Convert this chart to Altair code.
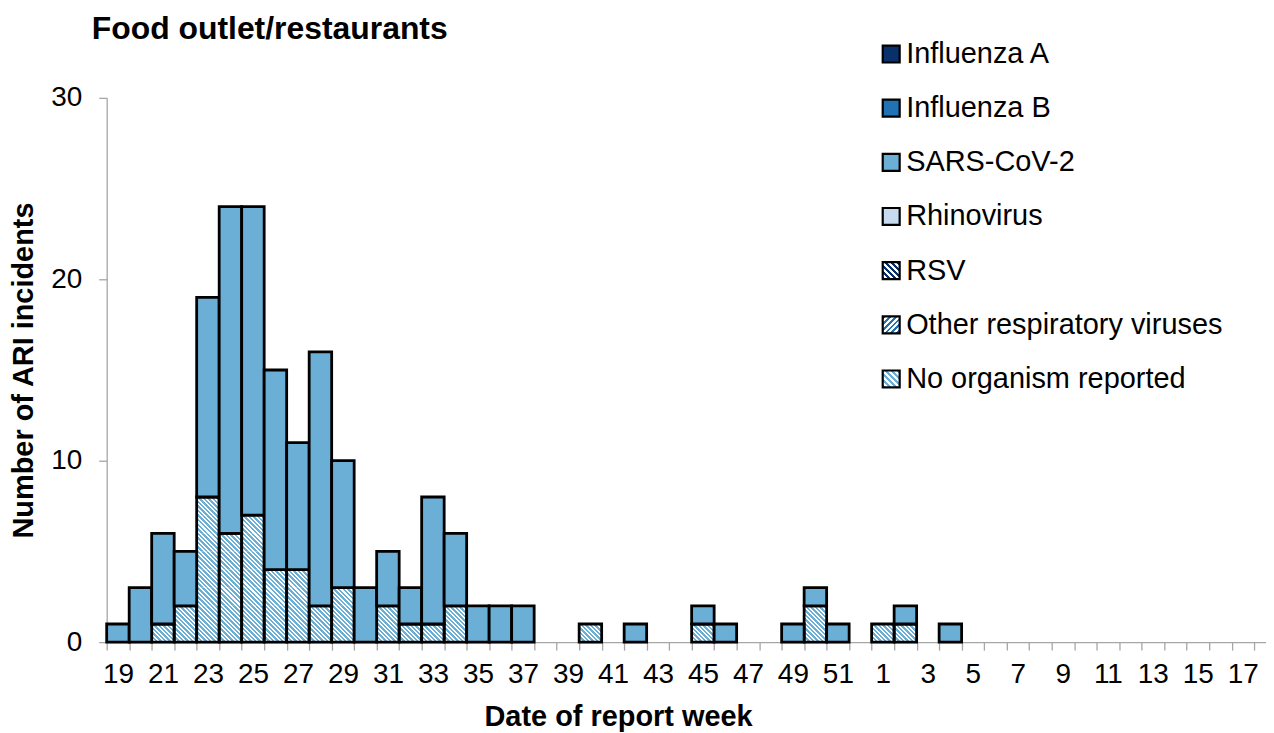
import math
import altair as alt
import pandas as pd

FONT = "Liberation Sans"

# ---------------- data ----------------
weeks = [19, 20, 21, 22, 23, 24, 25, 26, 27, 28, 29, 30, 31, 32, 33, 34, 35, 36,
         37, 38, 39, 40, 41, 42, 43, 44, 45, 46, 47, 48, 49, 50, 51, 52,
         1, 2, 3, 4, 5, 6, 7, 8, 9, 10, 11, 12, 13, 14, 15, 16, 17]

series_names = ["Influenza A", "Influenza B", "SARS-CoV-2", "Rhinovirus",
                "RSV", "Other respiratory viruses", "No organism reported"]

influenza_a = [0, 0, 0, 0, 0, 0, 0, 0, 0, 0, 0, 0, 0, 0, 0, 0, 0, 0, 0, 0, 0, 0, 0, 0, 0, 0,
               0, 0, 0, 0, 0, 0, 0, 0, 0, 0, 0, 0, 0, 0, 0, 0, 0, 0, 0, 0, 0, 0, 0, 0, 0]
influenza_b = [0, 0, 0, 0, 0, 0, 0, 0, 0, 0, 0, 0, 0, 0, 0, 0, 0, 0, 0, 0, 0, 0, 0, 0, 0, 0,
               0, 0, 0, 0, 0, 0, 0, 0, 0, 0, 0, 0, 0, 0, 0, 0, 0, 0, 0, 0, 0, 0, 0, 0, 0]
sars_cov_2 = [1, 3, 5, 3, 11, 18, 17, 11, 7, 14, 7, 3, 3, 2, 7, 4, 2, 2, 2, 0, 0, 0, 0, 1, 0, 0,
              1, 1, 0, 0, 1, 1, 1, 0,
              0, 1, 0, 1, 0, 0, 0, 0, 0, 0, 0, 0, 0, 0, 0, 0, 0]
rhinovirus = [0, 0, 0, 0, 0, 0, 0, 0, 0, 0, 0, 0, 0, 0, 0, 0, 0, 0, 0, 0, 0, 0, 0, 0, 0, 0,
              0, 0, 0, 0, 0, 0, 0, 0, 0, 0, 0, 0, 0, 0, 0, 0, 0, 0, 0, 0, 0, 0, 0, 0, 0]
rsv = [0, 0, 0, 0, 0, 0, 0, 0, 0, 0, 0, 0, 0, 0, 0, 0, 0, 0, 0, 0, 0, 0, 0, 0, 0, 0,
       0, 0, 0, 0, 0, 0, 0, 0, 0, 0, 0, 0, 0, 0, 0, 0, 0, 0, 0, 0, 0, 0, 0, 0, 0]
other_respiratory = [0, 0, 0, 0, 0, 0, 0, 0, 0, 0, 0, 0, 0, 0, 0, 0, 0, 0, 0, 0, 0, 0, 0, 0, 0, 0,
                     0, 0, 0, 0, 0, 0, 0, 0, 0, 0, 0, 0, 0, 0, 0, 0, 0, 0, 0, 0, 0, 0, 0, 0, 0]
no_organism = [0, 0, 1, 2, 8, 6, 7, 4, 4, 2, 3, 0, 2, 1, 1, 2, 0, 0, 0, 0, 0, 1, 0, 0, 0, 0,
               1, 0, 0, 0, 0, 2, 0, 0,
               1, 1, 0, 0, 0, 0, 0, 0, 0, 0, 0, 0, 0, 0, 0, 0, 0]

series_values = [influenza_a, influenza_b, sars_cov_2, rhinovirus, rsv,
                 other_respiratory, no_organism]

solid_names = ["Influenza A", "Influenza B", "SARS-CoV-2", "Rhinovirus"]
solid_colors = ["#08306b", "#2171b5", "#6baed6", "#c6dbef"]
hatch_styles = {
    "RSV": ("#08306b", "back"),
    "Other respiratory viruses": ("#2171b5", "fwd"),
    "No organism reported": ("#6baed6", "back"),
}

rows = []
for order, (name, vals) in enumerate(zip(series_names, series_values)):
    for wk, v in zip(weeks, vals):
        rows.append({"week": wk, "series": name, "order": order, "cases": v})
df = pd.DataFrame(rows)
legend_df = pd.DataFrame({"series": series_names})

# ---------------- geometry / style ----------------
PLOT_W, PLOT_H = 1163, 546
Y_MAX = 30
STEP = 22.57
pad_outer = (PLOT_W / STEP - len(weeks)) / 2
UNIT_H = PLOT_H / Y_MAX


def stripe_gradient(color, w, h, period, direction, duty=0.5):
    """Linear gradient with hard stops that draws 45-degree stripes in a w x h box."""
    span = w + h
    tp = (w + h) * w / (w * w + h * h)
    if direction == "back":
        x1, y1, x2, y2 = 0, 1, tp, 1 - tp * h / w
    else:
        x1, y1, x2, y2 = 0, 0, tp, tp * h / w
    stops = []
    n = math.ceil(span / period)
    for i in range(n):
        a = min(i * period / span, 1)
        b = min((i + duty) * period / span, 1)
        c = min((i + 1) * period / span, 1)
        stops += [{"offset": a, "color": color}, {"offset": b, "color": color},
                  {"offset": b, "color": "white"}, {"offset": c, "color": "white"}]
    return {"gradient": "linear", "x1": x1, "y1": y1, "x2": x2, "y2": y2, "stops": stops}


x_enc = alt.X(
    "week:O", sort=weeks,
    scale=alt.Scale(domain=weeks, paddingInner=0, paddingOuter=pad_outer, align=0),
    axis=alt.Axis(title="Date of report week", labelAngle=0,
                  labelExpr="datum.value % 2 == 1 ? datum.label : ''",
                  labelOverlap=False, tickBand="extent", labelPadding=10,
                  titlePadding=15, titleX=513),
)
y_scale = alt.Scale(domain=[0, Y_MAX], nice=False)
y_axis = alt.Axis(title="Number of ARI incidents", values=[0, 10, 20, 30],
                  labelPadding=17, titlePadding=12)

base = alt.Chart(df).transform_stack(
    stack="cases", groupby=["week"], as_=["y0", "y1"],
    sort=[alt.SortField("order", order="descending")],
)

hatch_layers = []
for name, (col, direction) in hatch_styles.items():
    grad = stripe_gradient(col, STEP, UNIT_H, UNIT_H / 4, direction, duty=0.55)
    hatch_layers.append(
        base.transform_filter((alt.datum.series == name) & (alt.datum.cases > 0))
        .transform_calculate(seq="sequence(datum.y0, datum.y1)")
        .transform_flatten(["seq"])
        .transform_calculate(seq2="datum.seq + 1")
        .mark_bar(fill=grad, strokeWidth=0)
        .encode(x=x_enc, y=alt.Y("seq:Q", scale=y_scale, axis=y_axis), y2="seq2:Q")
    )

outline = (
    base.transform_filter(alt.FieldOneOfPredicate(field="series", oneOf=list(hatch_styles)))
    .transform_filter(alt.datum.cases > 0)
    .mark_bar(fill="transparent", stroke="black", strokeWidth=2.8)
    .encode(x=x_enc, y=alt.Y("y0:Q", scale=y_scale, axis=y_axis), y2="y1:Q")
)

solid = (
    base.transform_filter(alt.FieldOneOfPredicate(field="series", oneOf=solid_names))
    .transform_filter(alt.datum.cases > 0)
    .mark_bar(stroke="black", strokeWidth=2.8)
    .encode(
        x=x_enc,
        y=alt.Y("y0:Q", scale=y_scale, axis=y_axis),
        y2="y1:Q",
        color=alt.Color("series:N", scale=alt.Scale(domain=solid_names, range=solid_colors),
                        legend=None),
    )
)

main = alt.layer(*hatch_layers, outline, solid)

# ---------------- legend (drawn as marks) ----------------
leg_y = alt.Y("series:N", sort=series_names,
              scale=alt.Scale(type="point", domain=series_names, range=[-44, 282], padding=0),
              axis=None)
LEG_SQ_X = 787
LEG_TX_X = 802

leg_solid = (
    alt.Chart(legend_df)
    .transform_filter(alt.FieldOneOfPredicate(field="series", oneOf=solid_names))
    .mark_square(size=289, stroke="black", strokeWidth=2.2, opacity=1)
    .encode(x=alt.value(LEG_SQ_X), y=leg_y,
            fill=alt.Fill("series:N", scale=alt.Scale(domain=solid_names, range=solid_colors),
                          legend=None))
)
leg_hatch = []
for name, (col, direction) in hatch_styles.items():
    leg_hatch.append(
        alt.Chart(legend_df)
        .transform_filter(alt.datum.series == name)
        .mark_square(size=289, stroke="black", strokeWidth=2.2, opacity=1,
                     fill=stripe_gradient(col, 17, 17, 6, direction))
        .encode(x=alt.value(LEG_SQ_X), y=leg_y)
    )
leg_text = (
    alt.Chart(legend_df)
    .mark_text(align="left", baseline="middle", fontSize=29, font=FONT, color="black")
    .encode(x=alt.value(LEG_TX_X), y=leg_y, text="series:N")
)
legend = alt.layer(leg_solid, *leg_hatch, leg_text)

chart = (
    alt.layer(main, legend)
    .resolve_scale(y="independent", fill="independent", color="independent")
    .properties(
        width=PLOT_W, height=PLOT_H,
        autosize=alt.AutoSizeParams(type="none"),
        padding={"left": 99, "top": 89, "right": 0, "bottom": 90},
        title=alt.TitleParams("Food outlet/restaurants", anchor="start", frame="group",
                              dx=-15, offset=-31, baseline="alphabetic",
                              fontSize=32, fontWeight="bold", font=FONT, color="black"),
    )
    .configure_view(strokeWidth=0)
    .configure_axis(
        domainColor="#a6a6a6", tickColor="#a6a6a6", domainWidth=1.3, tickWidth=1.3,
        tickSize=8, grid=False,
        labelColor="black", titleColor="black", labelFont=FONT, titleFont=FONT,
        labelFontSize=28, titleFontSize=29, titleFontWeight="bold",
    )
)

chart.save("out.html", embed_options={"renderer": "svg", "actions": False})
